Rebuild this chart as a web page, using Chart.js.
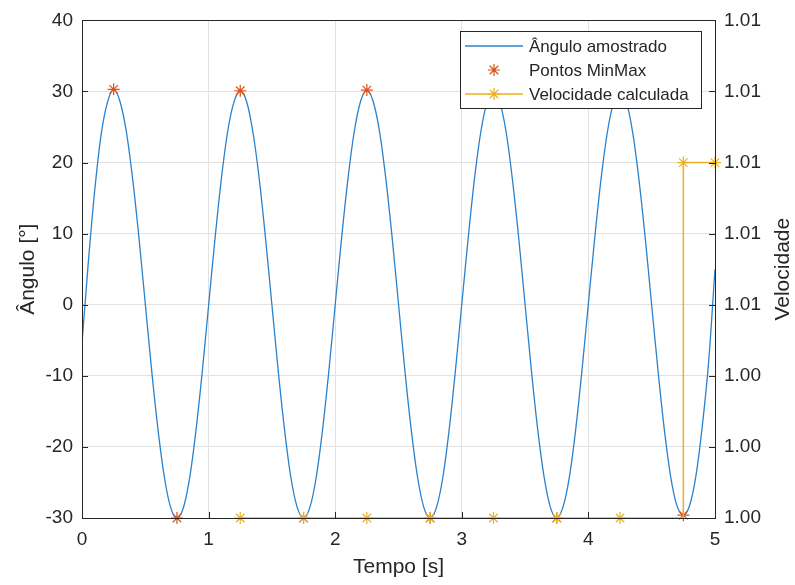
<!DOCTYPE html>
<html>
<head>
<meta charset="utf-8">
<script src="https://cdn.jsdelivr.net/npm/chart.js@4.4.0/dist/chart.umd.min.js"></script>
<style>
  html, body { margin: 0; padding: 0; background: #fff; }
  canvas { display: block; }
</style>
</head>
<body>
<canvas id="grafico" width="795" height="585"></canvas>
<script>
// angulo amostrado a cada 0.05 s, de 0 a 5 s
var passo = 0.05;
var angulo = [
  -5.4, 6.0, 16.0, 23.8, 28.4, 30.3, 28.6, 24.4, 17.7, 9.4, 0.1, -9.2, -17.5, -24.2, -28.5, -30.0, -28.6, -24.4, -17.7, -9.4,
  -0.1, 9.2, 17.6, 24.3, 28.5, 30.1, 28.6, 24.3, 17.7, 9.3, 0.0, -9.3, -17.6, -24.3, -28.5, -30.0, -28.5, -24.3, -17.6, -9.3,
  0.0, 9.3, 17.6, 24.3, 28.6, 30.2, 28.6, 24.4, 17.7, 9.4, 0.1, -9.2, -17.5, -24.2, -28.5, -30.0, -28.5, -24.3, -17.6, -9.2,
  0.1, 9.3, 17.7, 24.3, 28.5, 30.1, 28.5, 24.3, 17.6, 9.3, 0.0, -9.3, -17.6, -24.2, -28.5, -30.0, -28.4, -24.2, -17.5, -9.1,
  0.2, 9.4, 17.7, 24.3, 28.5, 30.1, 28.5, 24.2, 17.5, 9.2, -0.1, -9.3, -17.6, -24.2, -28.3, -29.6, -28.2, -24.0, -17.0, -8.0,
  5.0
];

// pontos de maximo e minimo
var tempoMinMax = [0.25, 0.75, 1.25, 1.75, 2.25, 2.75, 3.25, 3.75, 4.25, 4.75];
var valorMinMax = [30.3, -30.0, 30.1, -30.0, 30.2, -30.0, 30.1, -30.0, 30.1, -29.6];

// velocidade calculada (eixo da direita)
var tempoVel = [1.25, 1.75, 2.25, 2.75, 3.25, 3.75, 4.25, 4.75, 4.75, 5.0];
var valorVel = [1.0, 1.0, 1.0, 1.0, 1.0, 1.0, 1.0, 1.0, 1.01, 1.01];
var marcaVel = [true, true, true, true, true, true, true, false, true, true];

var ticksX = [0, 1, 2, 3, 4, 5];
var ticksEsq = [-30, -20, -10, 0, 10, 20, 30, 40];
var ticksDir = [1.000, 1.002, 1.004, 1.006, 1.008, 1.010, 1.012, 1.014];

var azul = '#2a82cc';
var laranja = '#D95319';
var amarelo = '#EDB120';
var texto = '#262626';
var fonte = "'Liberation Sans', Arial, Helvetica, sans-serif";

function estrela(ctx, x, y, r, cor) {
  ctx.save();
  ctx.strokeStyle = cor;
  ctx.lineWidth = 1.2;
  ctx.beginPath();
  for (var k = 0; k < 4; k++) {
    var a = k * Math.PI / 4;
    ctx.moveTo(x - r * Math.cos(a), y - r * Math.sin(a));
    ctx.lineTo(x + r * Math.cos(a), y + r * Math.sin(a));
  }
  ctx.stroke();
  ctx.restore();
}

// caixa dos eixos, marcas internas, legenda e titulo do eixo direito
var moldura = {
  id: 'moldura',
  afterDatasetsDraw: function (chart) {
    var ctx = chart.ctx, a = chart.chartArea, s = chart.scales;
    ctx.save();
    ctx.strokeStyle = texto;
    ctx.lineWidth = 1;
    ctx.beginPath();
    ticksEsq.forEach(function (v) {
      var y = Math.round(s.y.getPixelForValue(v)) + 0.5;
      ctx.moveTo(a.left, y); ctx.lineTo(a.left + 6, y);
    });
    ticksDir.forEach(function (v) {
      var y = Math.round(s.y1.getPixelForValue(v)) + 0.5;
      ctx.moveTo(a.right, y); ctx.lineTo(a.right - 6, y);
    });
    ticksX.forEach(function (v) {
      var x = Math.round(s.x.getPixelForValue(v)) + 0.5;
      ctx.moveTo(x, a.bottom); ctx.lineTo(x, a.bottom - 6);
    });
    ctx.stroke();
    ctx.strokeRect(Math.round(a.left) + 0.5, Math.round(a.top) + 0.5,
      Math.round(a.right - a.left), Math.round(a.bottom - a.top));

    // legenda
    var lx = 460, ly = 31, lw = 241, lh = 77;
    ctx.fillStyle = '#fff';
    ctx.fillRect(lx, ly, lw, lh);
    ctx.strokeStyle = texto;
    ctx.strokeRect(lx + 0.5, ly + 0.5, lw, lh);
    var linhas = chart.data.datasets;
    ctx.font = '17px ' + fonte;
    ctx.textBaseline = 'middle';
    ctx.textAlign = 'left';
    linhas.forEach(function (ds, i) {
      var yy = 46 + i * 24;
      if (i !== 1) {
        ctx.strokeStyle = ds.borderColor;
        ctx.lineWidth = 1.3;
        ctx.beginPath();
        ctx.moveTo(465, yy); ctx.lineTo(523, yy);
        ctx.stroke();
      }
      if (i > 0) estrela(ctx, 494, yy, 6, ds.borderColor);
      ctx.fillStyle = texto;
      ctx.fillText(ds.label, 529, yy + 1);
    });
    ctx.restore();
  },
  afterDraw: function (chart) {
    var ctx = chart.ctx, a = chart.chartArea;
    ctx.save();
    ctx.translate(783, (a.top + a.bottom) / 2);
    ctx.rotate(-Math.PI / 2);
    ctx.font = '21px ' + fonte;
    ctx.fillStyle = texto;
    ctx.textAlign = 'center';
    ctx.textBaseline = 'middle';
    ctx.fillText('Velocidade', 0, 0);
    ctx.restore();
  }
};

var grade = '#e2e2e2';

var myChart = new Chart(document.getElementById('grafico').getContext('2d'), {
  type: 'line',
  data: {
    datasets: [{
      label: 'Ângulo amostrado',
      data: angulo.map(function (v, i) { return { x: i * passo, y: v }; }),
      borderColor: azul,
      borderWidth: 1.3,
      pointRadius: 0,
      cubicInterpolationMode: 'monotone',
      yAxisID: 'y',
      order: 3
    }, {
      label: 'Pontos MinMax',
      data: tempoMinMax.map(function (t, i) { return { x: t, y: valorMinMax[i] }; }),
      showLine: false,
      borderColor: laranja,
      pointStyle: 'star',
      pointRadius: 6,
      pointBorderColor: laranja,
      pointBorderWidth: 1.2,
      yAxisID: 'y',
      clip: false,
      order: 2
    }, {
      label: 'Velocidade calculada',
      data: tempoVel.map(function (t, i) { return { x: t, y: valorVel[i] }; }),
      borderColor: amarelo,
      borderWidth: 1.5,
      pointStyle: 'star',
      pointRadius: marcaVel.map(function (m) { return m ? 6 : 0; }),
      pointBorderColor: amarelo,
      pointBorderWidth: 1.2,
      yAxisID: 'y1',
      clip: false,
      order: 1
    }]
  },
  options: {
    responsive: false,
    animation: false,
    layout: { padding: { top: 16, left: 0, right: 0, bottom: 0 } },
    plugins: { legend: { display: false }, tooltip: { enabled: false } },
    scales: {
      x: {
        type: 'linear', min: 0, max: 5,
        afterBuildTicks: function (s) { s.ticks = ticksX.map(function (v) { return { value: v }; }); },
        afterFit: function (s) { s.height = 67; },
        grid: { color: grade, drawTicks: false },
        border: { display: false },
        ticks: { padding: 10, color: texto, font: { family: fonte, size: 19 } },
        title: { display: true, text: 'Tempo [s]', color: texto, font: { family: fonte, size: 21 }, padding: { top: 0, bottom: 5 } }
      },
      y: {
        position: 'left', min: -30, max: 40,
        afterBuildTicks: function (s) { s.ticks = ticksEsq.map(function (v) { return { value: v }; }); },
        afterFit: function (s) { s.width = 82; },
        grid: { color: grade, drawTicks: false },
        border: { display: false },
        ticks: { padding: 9, color: texto, font: { family: fonte, size: 19 } },
        title: { display: true, text: 'Ângulo [°]', color: texto, font: { family: fonte, size: 21 }, padding: { top: 16, bottom: 0 } }
      },
      y1: {
        position: 'right', min: 1.0, max: 1.014,
        afterBuildTicks: function (s) { s.ticks = ticksDir.map(function (v) { return { value: v }; }); },
        afterFit: function (s) { s.width = 80; },
        grid: { display: false, drawTicks: false },
        border: { display: false },
        ticks: {
          padding: 9, color: texto, font: { family: fonte, size: 19 },
          callback: function (v) { return Number(v).toFixed(2); }
        }
      }
    }
  },
  plugins: [moldura]
});
</script>
</body>
</html>
